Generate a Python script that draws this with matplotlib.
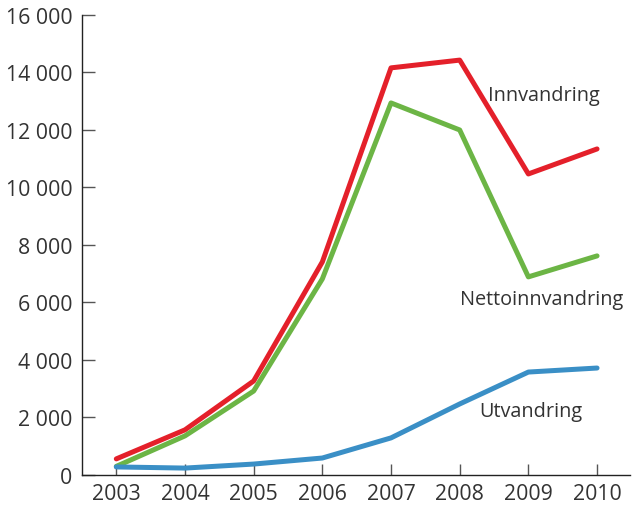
import numpy as np
import matplotlib.pyplot as plt

plt.rcParams.update({
    "font.family": ["Open Sans", "DejaVu Sans"],
    "font.size": 15.3,
    "text.color": "#333333",
    "xtick.color": "#555555",
    "ytick.color": "#555555",
    "xtick.labelcolor": "#333333",
    "ytick.labelcolor": "#333333",
})

years = [2003, 2004, 2005, 2006, 2007, 2008, 2009, 2010]
innvandring = [560, 1570, 3270, 7410, 14160, 14430, 10470, 11340]
nettoinnvandring = [300, 1360, 2920, 6820, 12940, 12000, 6890, 7620]
utvandring = [280, 240, 380, 590, 1290, 2470, 3580, 3720]

yticks = np.arange(0, 16001, 2000)
ytick_labels = ["0", "2 000", "4 000", "6 000", "8 000", "10 000", "12 000", "14 000", "16 000"]

fig = plt.figure(figsize=(6.34, 5.10), dpi=100)
ax = fig.add_axes([0.1293, 0.0667, 0.8644, 0.902])

lw = 3.6
ax.plot(years, innvandring, color="#e4202a", lw=lw, solid_capstyle="round")
ax.plot(years, nettoinnvandring, color="#6cb545", lw=lw, solid_capstyle="round")
ax.plot(years, utvandring, color="#3a8fc6", lw=lw, solid_capstyle="round")

ax.text(2009.23, 13200, "Innvandring", ha="center", va="center", fontsize=14.3)
ax.text(2009.2, 6120, "Nettoinnvandring", ha="center", va="center", fontsize=14.3)
ax.text(2009.03, 2230, "Utvandring", ha="center", va="center", fontsize=14.3)

ax.set_xlim(2002.5, 2010.48)
ax.set_ylim(0, 16000)
ax.set_xticks(years)
ax.set_yticks(yticks)
ax.set_yticklabels(ytick_labels)

for s in ["top", "right"]:
    ax.spines[s].set_visible(False)
for s in ["left", "bottom"]:
    ax.spines[s].set_linewidth(1.0)
    ax.spines[s].set_color("#222222")

ax.tick_params(axis="y", direction="in", length=9.5, width=1, pad=7)
ax.tick_params(axis="x", direction="in", length=8, width=1, pad=6)

fig.savefig("out.png", dpi=100)
